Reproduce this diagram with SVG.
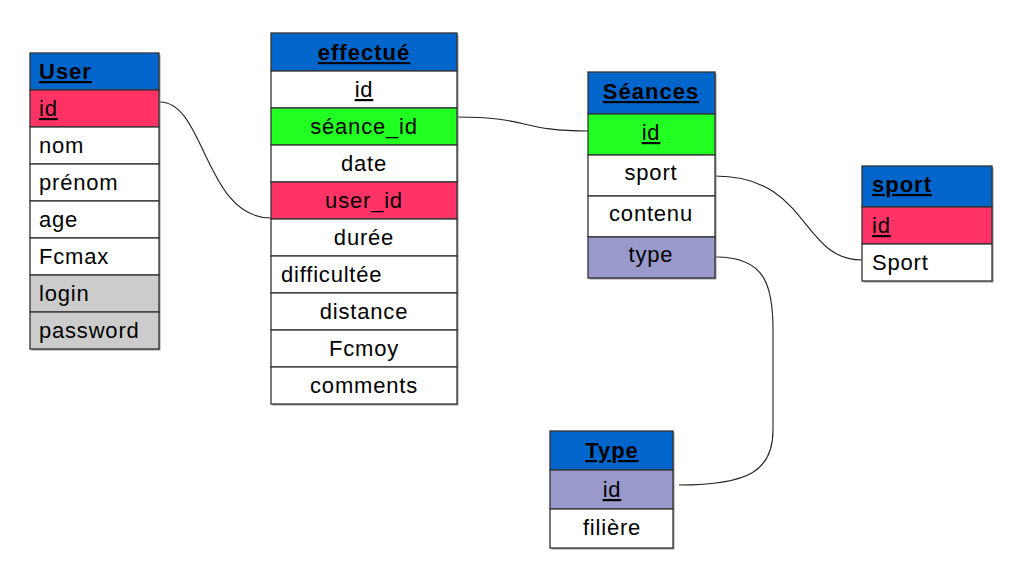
<svg xmlns="http://www.w3.org/2000/svg" width="1010" height="587" viewBox="0 0 1010 587">
<style>
  .c { stroke: #333; stroke-width: 1.3; }
  .h { fill: #0066cc; }
  .w { fill: #ffffff; }
  .r { fill: #ff3366; }
  .g { fill: #22ff22; }
  .p { fill: #9999cc; }
  .s { fill: #cccccc; }
  .sh { fill: #999; }
  text { font-family: "Liberation Sans", Arial, sans-serif; font-size: 22px; fill: #000; letter-spacing: 0.8px; }
  .t { font-weight: bold; text-decoration: underline; letter-spacing: 1px; }
  .u { text-decoration: underline; }
  .m { text-anchor: middle; }
  .link { fill: none; stroke: #222; stroke-width: 1.1; }
</style>
<rect width="1010" height="587" fill="#ffffff"/>

<g id="connectors">
  <path class="link" d="M160,102 C205,102 205,218 271,218"/>
  <path class="link" d="M457,117 C530,117 520,131 588,131"/>
  <path class="link" d="M715,176 C810,176 800,260 862,260"/>
  <path class="link" d="M716,257 C765,257 773,285 773,330 L773,430 C773,470 750,485 679,485"/>
</g>

<g id="User">
  <rect class="sh" x="31.5" y="54.5" width="129" height="296"/>
  <rect class="c h" x="30" y="53" width="129" height="37"/>
  <rect class="c r" x="30" y="90" width="129" height="37"/>
  <rect class="c w" x="30" y="127" width="129" height="37"/>
  <rect class="c w" x="30" y="164" width="129" height="37"/>
  <rect class="c w" x="30" y="201" width="129" height="37"/>
  <rect class="c w" x="30" y="238" width="129" height="37"/>
  <rect class="c s" x="30" y="275" width="129" height="37"/>
  <rect class="c s" x="30" y="312" width="129" height="37"/>
  <text class="t" x="39" y="79">User</text>
  <text class="u" x="39" y="116">id</text>
  <text x="39" y="153">nom</text>
  <text x="39" y="190">prénom</text>
  <text x="39" y="227">age</text>
  <text x="39" y="264">Fcmax</text>
  <text x="39" y="301">login</text>
  <text x="39" y="338">password</text>
</g>

<g id="effectue">
  <rect class="sh" x="272.5" y="34.5" width="186" height="371"/>
  <rect class="c h" x="271" y="33" width="186" height="38"/>
  <rect class="c w" x="271" y="71" width="186" height="37"/>
  <rect class="c g" x="271" y="108" width="186" height="37"/>
  <rect class="c w" x="271" y="145" width="186" height="37"/>
  <rect class="c r" x="271" y="182" width="186" height="37"/>
  <rect class="c w" x="271" y="219" width="186" height="37"/>
  <rect class="c w" x="271" y="256" width="186" height="37"/>
  <rect class="c w" x="271" y="293" width="186" height="37"/>
  <rect class="c w" x="271" y="330" width="186" height="37"/>
  <rect class="c w" x="271" y="367" width="186" height="37"/>
  <text class="t m" x="364" y="60">effectué</text>
  <text class="u m" x="364" y="97">id</text>
  <text class="m" x="364" y="134">séance_id</text>
  <text class="m" x="364" y="171">date</text>
  <text class="m" x="364" y="208">user_id</text>
  <text class="m" x="364" y="245">durée</text>
  <text x="281" y="282">difficultée</text>
  <text class="m" x="364" y="319">distance</text>
  <text class="m" x="364" y="356">Fcmoy</text>
  <text class="m" x="364" y="393">comments</text>
</g>

<g id="Seances">
  <rect class="sh" x="589.5" y="73.5" width="127" height="206"/>
  <rect class="c h" x="588" y="72" width="127" height="42"/>
  <rect class="c g" x="588" y="114" width="127" height="41"/>
  <rect class="c w" x="588" y="155" width="127" height="41"/>
  <rect class="c w" x="588" y="196" width="127" height="41"/>
  <rect class="c p" x="588" y="237" width="127" height="41"/>
  <text class="t m" x="651" y="99">Séances</text>
  <text class="u m" x="651" y="140">id</text>
  <text class="m" x="651" y="180">sport</text>
  <text class="m" x="651" y="221">contenu</text>
  <text class="m" x="651" y="262">type</text>
</g>

<g id="sport">
  <rect class="sh" x="863.5" y="167.5" width="130" height="115"/>
  <rect class="c h" x="862" y="166" width="130" height="41"/>
  <rect class="c r" x="862" y="207" width="130" height="37"/>
  <rect class="c w" x="862" y="244" width="130" height="37"/>
  <text class="t" x="872" y="192">sport</text>
  <text class="u" x="872" y="233">id</text>
  <text x="872" y="270">Sport</text>
</g>

<g id="Type">
  <rect class="sh" x="551.5" y="432.5" width="123" height="117"/>
  <rect class="c h" x="550" y="431" width="123" height="39"/>
  <rect class="c p" x="550" y="470" width="123" height="39"/>
  <rect class="c w" x="550" y="509" width="123" height="39"/>
  <text class="t m" x="612" y="458">Type</text>
  <text class="u m" x="612" y="497">id</text>
  <text class="m" x="612" y="535">filière</text>
</g>
</svg>
